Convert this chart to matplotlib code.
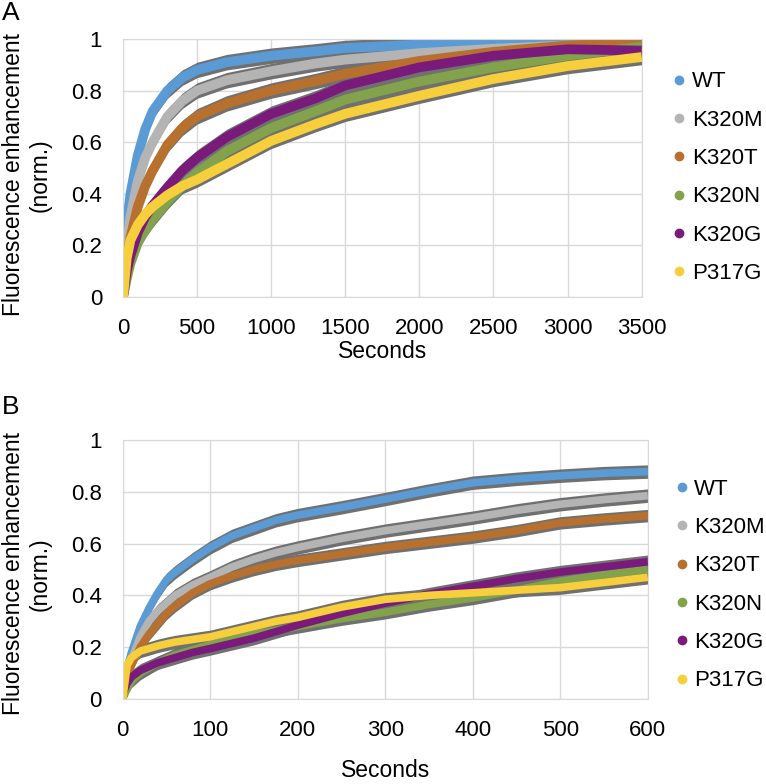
import matplotlib
matplotlib.use("Agg")
import matplotlib.pyplot as plt
from matplotlib.lines import Line2D

plt.rcParams['font.family'] = ['Liberation Sans', 'DejaVu Sans']

names = ["WT", "K320M", "K320T", "K320N", "K320G", "P317G"]
colors = ["#5B9BD5", "#B4B4B4", "#B8702E", "#82A34B", "#7A1A7A", "#F7CF3C"]

# panel A, full run (seconds)
t_a = [0, 25, 50, 100, 150, 200, 300, 400, 500, 700, 1000, 1300, 1500, 2000, 2500, 3000, 3500]
wt_a = [0, 0.28, 0.40, 0.55, 0.65, 0.72, 0.80, 0.85, 0.88, 0.91, 0.935, 0.952, 0.965, 0.978, 0.982, 0.985, 0.985]
k320m_a = [0, 0.20, 0.31, 0.45, 0.54, 0.60, 0.70, 0.76, 0.80, 0.84, 0.875, 0.905, 0.92, 0.945, 0.962, 0.975, 0.98]
k320t_a = [0, 0.14, 0.23, 0.35, 0.43, 0.49, 0.59, 0.655, 0.70, 0.75, 0.80, 0.837, 0.865, 0.915, 0.95, 0.975, 0.985]
k320n_a = [0, 0.07, 0.13, 0.21, 0.26, 0.30, 0.37, 0.43, 0.48, 0.565, 0.655, 0.72, 0.765, 0.835, 0.89, 0.935, 0.97]
k320g_a = [0, 0.10, 0.16, 0.25, 0.31, 0.355, 0.425, 0.49, 0.54, 0.62, 0.71, 0.77, 0.82, 0.89, 0.935, 0.96, 0.955]
p317g_a = [0, 0.15, 0.22, 0.28, 0.32, 0.35, 0.395, 0.43, 0.455, 0.515, 0.605, 0.67, 0.71, 0.78, 0.845, 0.895, 0.93]
err_a = [0.03, 0.03, 0.03, 0.03, 0.03, 0.03]

# panel B, first 600 s
t_b = [0, 5, 10, 20, 30, 40, 50, 60, 80, 100, 125, 150, 175, 200, 250, 300, 350, 400, 450, 500, 550, 600]
wt_b = [0, 0.12, 0.18, 0.28, 0.35, 0.41, 0.46, 0.49, 0.54, 0.585, 0.63, 0.66, 0.69, 0.71, 0.74, 0.772, 0.805, 0.835, 0.85, 0.862, 0.872, 0.878]
k320m_b = [0, 0.09, 0.15, 0.24, 0.30, 0.34, 0.37, 0.40, 0.44, 0.47, 0.51, 0.54, 0.565, 0.585, 0.62, 0.65, 0.675, 0.70, 0.728, 0.752, 0.77, 0.785]
k320t_b = [0, 0.08, 0.13, 0.20, 0.25, 0.29, 0.33, 0.36, 0.41, 0.445, 0.475, 0.50, 0.52, 0.535, 0.56, 0.585, 0.605, 0.625, 0.65, 0.68, 0.695, 0.708]
k320n_b = [0, 0.04, 0.07, 0.10, 0.12, 0.14, 0.155, 0.17, 0.19, 0.21, 0.23, 0.25, 0.265, 0.28, 0.31, 0.335, 0.365, 0.39, 0.42, 0.455, 0.48, 0.50]
k320g_b = [0.02, 0.06, 0.085, 0.11, 0.125, 0.14, 0.15, 0.16, 0.18, 0.195, 0.215, 0.235, 0.26, 0.285, 0.33, 0.37, 0.405, 0.435, 0.465, 0.49, 0.51, 0.53]
p317g_b = [0, 0.13, 0.16, 0.185, 0.195, 0.205, 0.213, 0.22, 0.23, 0.24, 0.26, 0.28, 0.30, 0.315, 0.355, 0.385, 0.40, 0.41, 0.42, 0.43, 0.45, 0.47]
err_b = [0.026, 0.026, 0.024, 0.026, 0.026, 0.026]


def panel(ax, t, series, err, xmax, xstep, lw, label_xy, legend_xy):
    for y, e, c in zip(series, err, colors):
        lo = [v - e for v in y]
        hi = [v + e for v in y]
        ax.fill_between(t, lo, hi, color="#707070", lw=0)
        ax.plot(t, y, color=c, lw=lw, solid_capstyle="butt")

    ax.set_xlim(0, xmax)
    ax.set_ylim(0, 1)
    ax.set_xticks(range(0, xmax + 1, xstep))
    ax.set_yticks([0, 0.2, 0.4, 0.6, 0.8, 1])
    ax.set_yticklabels(["0", "0.2", "0.4", "0.6", "0.8", "1"])
    ax.grid(color="#d9d9d9", lw=1)
    ax.set_axisbelow(True)
    for s in ax.spines.values():
        s.set_color("#d9d9d9")
    ax.tick_params(length=0, labelsize=16, pad=15)

    ax.set_ylabel("Fluorescence enhancement\n(norm.)", fontsize=16.5)
    ax.yaxis.set_label_coords(*label_xy)

    handles = [Line2D([], [], ls="", marker="o", ms=6, color=c) for c in colors]
    ax.legend(handles, names, loc="center left", bbox_to_anchor=legend_xy,
              frameon=False, fontsize=16, handlelength=0.6, handletextpad=0.25,
              labelspacing=0.78, borderpad=0, borderaxespad=0)


fig = plt.figure(figsize=(7.66, 7.84), dpi=100)
ax1 = fig.add_axes([0.1606, 0.6212, 0.6771, 0.3291])
ax2 = fig.add_axes([0.1602, 0.1084, 0.6854, 0.3304])

panel(ax1, t_a, [wt_a, k320m_a, k320t_a, k320n_a, k320g_a, p317g_a], err_a,
      3500, 500, 7, (-0.137, 0.473), (1.06, 0.462))
panel(ax2, t_b, [wt_b, k320m_b, k320t_b, k320n_b, k320g_b, p317g_b], err_b,
      600, 100, 5.5, (-0.135, 0.483), (1.052, 0.44))

ax1.set_xlabel("Seconds", fontsize=16.5, labelpad=1)
ax2.set_xlabel("Seconds", fontsize=16.5, labelpad=13)

fig.text(0.002, 0.999, "A", fontsize=19, va="top", ha="left")
fig.text(0.002, 0.496, "B", fontsize=19, va="top", ha="left")

fig.savefig("out.png", dpi=100)
